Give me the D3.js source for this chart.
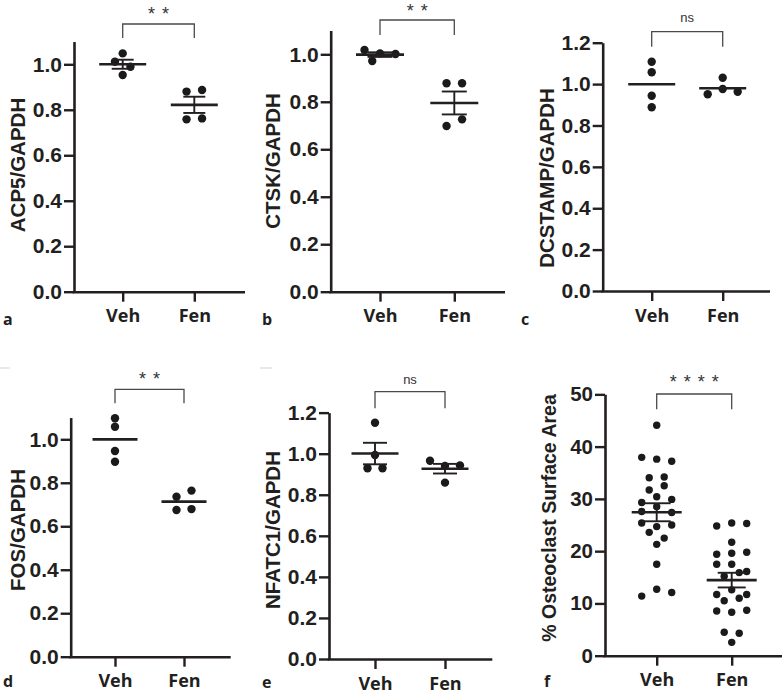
<!DOCTYPE html>
<html><head><meta charset="utf-8">
<script src="https://cdn.jsdelivr.net/npm/d3@7"></script>
<style>
html,body{margin:0;padding:0;background:#fff;}
svg{display:block;}
</style></head><body>
<svg id="chart" width="783" height="694"></svg>
<script>
// ---------------- data ----------------
const groups = ["Veh", "Fen"];

const acp5Veh = [1.048, 1.011, 0.989, 0.953];
const acp5Fen = [0.880, 0.887, 0.758, 0.762];

const ctskVeh = [1.018, 1.004, 1.001, 0.972];
const ctskFen = [0.878, 0.878, 0.698, 0.726];

const dcstampVeh = [1.108, 1.057, 0.944, 0.888];
const dcstampFen = [1.031, 0.951, 0.976, 0.963];

const fosVeh = [1.097, 1.058, 0.946, 0.897];
const fosFen = [0.736, 0.764, 0.675, 0.679];

const nfatc1Veh = [1.151, 0.994, 0.929, 0.929];
const nfatc1Fen = [0.966, 0.940, 0.943, 0.859];

const osteoVeh = [44.1, 37.95, 37.6, 37.2, 34.05, 34.2, 31.7, 32.5, 29.3, 30.4, 29.9,
                  27.6, 28.5, 27.4, 25.4, 24.7, 25.0, 23.6, 22.5, 21.3, 17.5, 11.4, 12.7, 12.1];
const osteoFen = [24.8, 25.4, 25.3, 21.7, 19.4, 19.6, 19.8, 17.5, 17.5, 16.1, 15.2, 15.9,
                  11.7, 12.6, 11.7, 10.5, 11.0, 8.55, 8.3, 8.7, 4.5, 4.3, 2.55];

const ticksTo1 = [0, 0.2, 0.4, 0.6, 0.8, 1.0];
const ticksTo12 = [0, 0.2, 0.4, 0.6, 0.8, 1.0, 1.2];
const ticksPct = [0, 10, 20, 30, 40, 50];

const yLabels = ["ACP5/GAPDH", "CTSK/GAPDH", "DCSTAMP/GAPDH", "FOS/GAPDH", "NFATC1/GAPDH", "% Osteoclast Surface Area"];
const sigLabels = ["* *", "* *", "ns", "* *", "ns", "* * * *"];
const panelLetters = ["a", "b", "c", "d", "e", "f"];

// ---------------- panels (data + layout) ----------------
const panels = [
  {veh: acp5Veh, fen: acp5Fen, ticks: ticksTo1, fmt: ".1f", yMax: 1.1, sem: true,
   L: {axisX: 74, y0: 291.7, ppu: 227.4, xEnd: 245, vehX: 122.7, fenX: 194.3,
       titleX: 17, titleY: 165, brY: 24, brLeg: 38, sigY: 10, letterX: 3, letterY: 325, r: 4.2, sp: 15.5, mhw: 23.5, chw: 11}},
  {veh: ctskVeh, fen: ctskFen, ticks: ticksTo1, fmt: ".1f", yMax: 1.1, sem: true,
   L: {axisX: 330.7, y0: 291.7, ppu: 237.4, xEnd: 505, vehX: 380, fenX: 454.3,
       titleX: 272.5, titleY: 161, brY: 20, brLeg: 35, sigY: 6.5, letterX: 262, letterY: 325, r: 4.2, sp: 15.5, mhw: 24, chw: 12.5}},
  {veh: dcstampVeh, fen: dcstampFen, ticks: ticksTo12, fmt: ".1f", yMax: 1.2, sem: false,
   L: {axisX: 602.7, y0: 291, ppu: 206.9, xEnd: 770, vehX: 651.7, fenX: 722.7,
       titleX: 546, titleY: 178, brY: 31.7, brLeg: 46.7, sigY: 17.5, letterX: 521, letterY: 325, r: 4.2, sp: 15, mhw: 23.5, chw: 12}},
  {veh: fosVeh, fen: fosFen, ticks: ticksTo1, fmt: ".1f", yMax: 1.1, sem: false,
   L: {axisX: 70.7, y0: 656.7, ppu: 217.4, xEnd: 230.7, vehX: 115, fenX: 184,
       titleX: 17, titleY: 530, brY: 389.3, brLeg: 403.3, sigY: 375, letterX: 3, letterY: 687, r: 4.2, sp: 15, mhw: 22.5, chw: 12}},
  {veh: nfatc1Veh, fen: nfatc1Fen, ticks: ticksTo12, fmt: ".1f", yMax: 1.2, sem: true,
   L: {axisX: 329, y0: 659, ppu: 205.3, xEnd: 492.3, vehX: 375, fenX: 445,
       titleX: 272.5, titleY: 530, brY: 391.7, brLeg: 408.3, sigY: 379.5, letterX: 262, letterY: 688, r: 4.2, sp: 15, mhw: 23.5, chw: 12}},
  {veh: osteoVeh, fen: osteoFen, ticks: ticksPct, fmt: "d", yMax: 50, sem: true,
   L: {axisX: 605, y0: 655.7, ppu: 5.227, xEnd: 782, vehX: 656.7, fenX: 731.7,
       titleX: 549, titleY: 518, brY: 394, brLeg: 409.3, sigY: 378.3, letterX: 544, letterY: 687, r: 3.7, sp: 15, mhw: 25, chw: 14}}
];

const INK = "#231f20";
const svg = d3.select("#chart");

function swarm(vals, cx, y, D, spacing) {
  const pts = vals.map((v, i) => ({v, i, py: y(v)}));
  const sorted = pts.slice().sort((a, b) => (b.v - a.v) || (a.i - b.i));
  const rows = [];
  let cur = null;
  for (const p of sorted) {
    if (cur && p.py - cur[0].py < D) cur.push(p);
    else { cur = [p]; rows.push(cur); }
  }
  const placed = [];
  for (const row of rows) {
    row.sort((a, b) => a.i - b.i);
    const n = row.length;
    const base = row.map((p, k) => (k - (n - 1) / 2) * spacing);
    const shifts = [0, -spacing / 2, spacing / 2, -spacing, spacing];
    let chosen = 0;
    for (const s of shifts) {
      const ok = row.every((p, k) => placed.every(q =>
        Math.hypot(cx + base[k] + s - q.px, p.py - q.py) >= D));
      if (ok) { chosen = s; break; }
    }
    row.forEach((p, k) => { p.px = cx + base[k] + chosen; placed.push(p); });
  }
  return pts;
}

panels.forEach((p, idx) => {
  const L = p.L;
  const g = svg.append("g");
  const y = d3.scaleLinear().domain([0, p.yMax]).range([L.y0, L.y0 - p.yMax * L.ppu]);
  const x = d3.scalePoint().domain(groups).range([L.vehX, L.fenX]);

  // y axis
  const yAxis = d3.axisLeft(y).tickValues(p.ticks).tickFormat(d3.format(p.fmt))
    .tickSize(10).tickSizeOuter(0).tickPadding(2);
  const yg = g.append("g").attr("transform", `translate(${L.axisX},0)`).call(yAxis);
  yg.select(".domain").attr("stroke", INK).attr("stroke-width", 2.6);
  yg.selectAll(".tick line").attr("stroke", INK).attr("stroke-width", 2.4);
  yg.selectAll(".tick text")
    .attr("font-family", "'Liberation Sans', Arial, sans-serif")
    .attr("font-weight", "bold").attr("font-size", idx === 5 ? 20.5 : 21).attr("fill", INK);

  // x axis
  const xAxis = d3.axisBottom(x).tickSize(10).tickSizeOuter(0).tickPadding(8);
  const xg = g.append("g").attr("transform", `translate(0,${L.y0})`).call(xAxis);
  xg.select(".domain").remove();
  xg.selectAll(".tick line").attr("stroke", INK).attr("stroke-width", 2.4);
  xg.selectAll(".tick text")
    .attr("font-family", "'Open Sans', sans-serif")
    .attr("font-weight", "bold").attr("font-size", 18).attr("fill", INK);
  g.append("line")
    .attr("x1", L.axisX - 1.3).attr("x2", L.xEnd)
    .attr("y1", L.y0 + 0.5).attr("y2", L.y0 + 0.5)
    .attr("stroke", INK).attr("stroke-width", 2.6);

  // y title
  g.append("text")
    .attr("transform", `translate(${L.titleX},${L.titleY}) rotate(-90)`)
    .attr("text-anchor", "middle").attr("dominant-baseline", "central")
    .attr("font-family", "'Liberation Sans', Arial, sans-serif")
    .attr("font-weight", "bold").attr("font-size", idx === 5 ? 19.5 : 20.5).attr("fill", INK)
    .text(yLabels[idx]);

  // dots
  const D = L.r * 2;
  [p.veh, p.fen].forEach((vals, gi) => {
    const cx = x(groups[gi]);
    const pts = swarm(vals, cx, y, D, L.sp);
    g.append("g").selectAll("circle").data(pts).join("circle")
      .attr("cx", d => d.px).attr("cy", d => d.py).attr("r", L.r).attr("fill", "#1a1a1a");

    const m = d3.mean(vals);
    const se = d3.deviation(vals) / Math.sqrt(vals.length);
    g.append("line")
      .attr("x1", cx - L.mhw).attr("x2", cx + L.mhw)
      .attr("y1", y(m)).attr("y2", y(m))
      .attr("stroke", INK).attr("stroke-width", 2.6);
    if (p.sem) {
      const eg = g.append("g").attr("stroke", INK).attr("stroke-width", 1.9);
      eg.append("line").attr("x1", cx).attr("x2", cx).attr("y1", y(m - se)).attr("y2", y(m + se));
      [m - se, m + se].forEach(v => {
        eg.append("line").attr("x1", cx - L.chw).attr("x2", cx + L.chw)
          .attr("y1", y(v)).attr("y2", y(v));
      });
    }
  });

  // significance bracket
  g.append("path")
    .attr("d", `M${x("Veh")},${L.brLeg}V${L.brY}H${x("Fen")}V${L.brLeg}`)
    .attr("fill", "none").attr("stroke", "#4a4a4a").attr("stroke-width", 1.3);
  const sig = sigLabels[idx];
  const isStar = sig.indexOf("*") >= 0;
  g.append("text")
    .attr("x", (x("Veh") + x("Fen")) / 2)
    .attr("y", isStar ? L.sigY + 10 : L.sigY + 4.5)
    .attr("text-anchor", "middle")
    .attr("font-family", "'Liberation Sans', Arial, sans-serif")
    .attr("font-size", isStar ? 18 : 13)
    .attr("word-spacing", isStar ? 2 : 0)
    .attr("fill", "#333")
    .text(sig);

  // panel letter
  g.append("text")
    .attr("x", L.letterX).attr("y", L.letterY)
    .attr("font-family", "'Open Sans', sans-serif")
    .attr("font-weight", "bold").attr("font-size", 16).attr("fill", INK)
    .text(panelLetters[idx]);
});

// faint scan marks
[[0, 10], [260, 272]].forEach(([a, b]) => {
  svg.append("line").attr("x1", a).attr("x2", b).attr("y1", 368).attr("y2", 368)
    .attr("stroke", "#e2e2e2").attr("stroke-width", 1.5);
});
</script>
</body></html>
